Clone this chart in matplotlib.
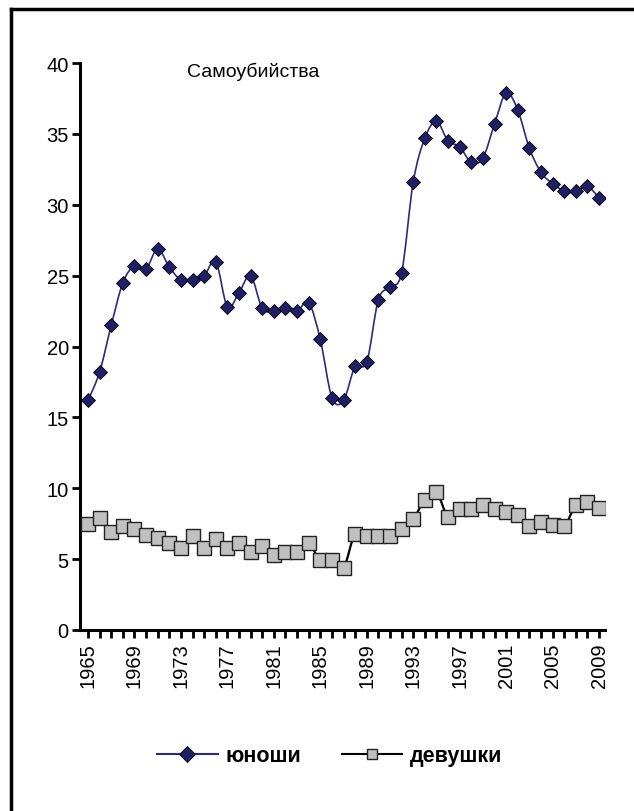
import matplotlib
matplotlib.use('Agg')
import matplotlib.pyplot as plt
import numpy as np
from matplotlib.path import Path
from matplotlib.patches import PathPatch
from matplotlib.lines import Line2D

plt.rcParams['font.family'] = ['Liberation Sans', 'DejaVu Sans']

years = list(range(1965, 2010))
boys = [16.2, 18.2, 21.5, 24.5, 25.7, 25.5, 26.9, 25.6, 24.7, 24.7,
        25.0, 26.0, 22.8, 23.8, 25.0, 22.7, 22.5, 22.7, 22.5, 23.1,
        20.5, 16.4, 16.2, 18.6, 18.9, 23.3, 24.2, 25.2, 31.6, 34.7,
        35.9, 34.5, 34.1, 33.0, 33.3, 35.7, 37.9, 36.7, 34.0, 32.3,
        31.5, 31.0, 31.0, 31.3, 30.5]
girls = [7.5, 7.9, 6.9, 7.3, 7.1, 6.7, 6.5, 6.1, 5.8, 6.6,
         5.8, 6.4, 5.8, 6.1, 5.5, 5.9, 5.3, 5.5, 5.5, 6.1,
         4.9, 4.9, 4.4, 6.8, 6.6, 6.6, 6.6, 7.1, 7.8, 9.2,
         9.7, 8.0, 8.5, 8.5, 8.8, 8.5, 8.3, 8.1, 7.3, 7.6,
         7.4, 7.3, 8.8, 9.0, 8.6]
year_labels = [str(y) for y in range(1965, 2010, 4)]


# smoothed line like Excel (Catmull-Rom -> bezier)
def smooth_path(x, y):
    x = np.asarray(x, float)
    y = np.asarray(y, float)
    verts = [(x[0], y[0])]
    codes = [Path.MOVETO]
    n = len(x)
    for i in range(n - 1):
        i0 = max(i - 1, 0)
        i3 = min(i + 2, n - 1)
        c1 = (x[i] + (x[i + 1] - x[i0]) / 6, y[i] + (y[i + 1] - y[i0]) / 6)
        c2 = (x[i + 1] - (x[i3] - x[i]) / 6, y[i + 1] - (y[i3] - y[i]) / 6)
        verts += [c1, c2, (x[i + 1], y[i + 1])]
        codes += [Path.CURVE4] * 3
    return Path(verts, codes)


fig = plt.figure(figsize=(6.34, 8.12), dpi=100)
ax = fig.add_axes([0.126, 0.223, 0.828, 0.698])

ax.add_patch(PathPatch(smooth_path(years, boys), fill=False, edgecolor='#2B2B80', lw=1.2, zorder=2))
ax.add_patch(PathPatch(smooth_path(years, girls), fill=False, edgecolor='black', lw=1.6, zorder=2))
ax.plot(years, boys, linestyle='none', marker='D', markersize=7,
        markerfacecolor='#1F1F66', markeredgecolor='black', markeredgewidth=0.6, zorder=3)
ax.plot(years, girls, linestyle='none', marker='s', markersize=10,
        markerfacecolor='#C0C0C0', markeredgecolor='#222222', markeredgewidth=1.0, zorder=3)

ax.set_xlim(1964.3, 2009.5)
ax.set_ylim(0, 40)
ax.set_yticks(range(0, 41, 5))
ax.set_xticks(range(1965, 2010, 4))
ax.set_xticklabels(year_labels, rotation=90)
ax.set_xticks(years, minor=True)
ax.tick_params(axis='y', labelsize=14.5, direction='out', length=6, width=2, pad=2)
ax.tick_params(axis='x', which='both', labelsize=14.5, direction='out', length=6, width=2, pad=3)
for s in ['top', 'right']:
    ax.spines[s].set_visible(False)
for s in ['left', 'bottom']:
    ax.spines[s].set_linewidth(2.2)

ax.text(0.205, 1.002, 'Самоубийства', transform=ax.transAxes, fontsize=14, va='top', ha='left')

h1 = Line2D([], [], color='#2B2B80', lw=1.5, marker='D', markersize=8,
            markerfacecolor='#1F1F66', markeredgecolor='black', markeredgewidth=0.6)
h2 = Line2D([], [], color='black', lw=1.5, marker='s', markersize=7,
            markerfacecolor='#C0C0C0', markeredgecolor='#222222', markeredgewidth=1.0)
fig.legend([h1, h2], ['юноши', 'девушки'], loc='center', bbox_to_anchor=(0.52, 0.068),
           ncol=2, frameon=False, prop={'weight': 'bold', 'size': 15.5},
           handlelength=2.8, columnspacing=1.9, handletextpad=0.35)

# outer frame (top and left edges visible)
fig.add_artist(Line2D([0.017, 0.017], [0, 0.988], color='black', lw=2.5, transform=fig.transFigure))
fig.add_artist(Line2D([0.017, 1.0], [0.988, 0.988], color='black', lw=2.5, transform=fig.transFigure))

fig.savefig('out.png', dpi=100)
